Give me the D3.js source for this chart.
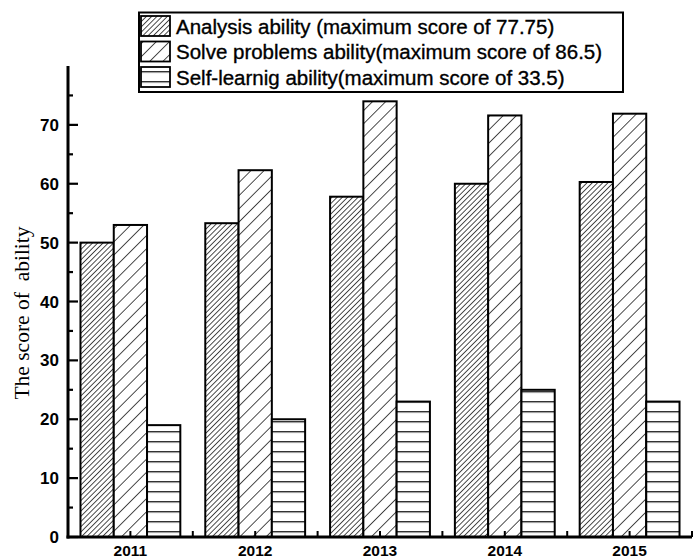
<!DOCTYPE html>
<html><head><meta charset="utf-8">
<script src="https://cdn.jsdelivr.net/npm/d3@7"></script>
<style>body{margin:0;background:#fff}svg{display:block}</style>
</head><body>
<svg id="c" width="694" height="557"></svg>
<script>
const years = ["2011","2012","2013","2014","2015"];
const seriesNames = [
  "Analysis ability (maximum score of 77.75)",
  "Solve problems ability(maximum score of 86.5)",
  "Self-learnig ability(maximum score of 33.5)"
];
const analysis = [50.0, 53.3, 57.8, 60.0, 60.3];
const solve = [53.0, 62.3, 74.0, 71.6, 71.9];
const selfLearn = [19.0, 20.0, 23.0, 25.0, 23.0];
const yTicks = [0,10,20,30,40,50,60,70];
const yMinorTicks = [5,15,25,35,45,55,65,75];
const series = [analysis, solve, selfLearn];

(function(){
const svg = d3.select("#c");
const pLeft = 68, pRight = 692, pTop = 66, pBottom = 537;
const x = d3.scaleBand().domain(years).range([pLeft, pRight]).paddingInner(0).paddingOuter(0);
const groupW = x.bandwidth() * 0.8;
const xs = d3.scaleBand().domain([0,1,2]).range([0, groupW]);
const y = d3.scaleLinear().domain([0, 80]).range([pBottom, pTop]);

const defs = svg.append("defs");
function hatch(id, spacing, sw) {
  const p = defs.append("pattern").attr("id", id).attr("patternUnits","userSpaceOnUse")
    .attr("width", spacing).attr("height", spacing).attr("patternTransform","rotate(45)");
  p.append("rect").attr("width", spacing).attr("height", spacing).attr("fill","#fff");
  p.append("line").attr("x1",0).attr("y1",-1).attr("x2",0).attr("y2",spacing+1)
    .attr("stroke","#000").attr("stroke-width", sw);
}
hatch("p0", 3.7, 1.4);
hatch("p1", 9.3, 1.4);
const ph = defs.append("pattern").attr("id","p2").attr("patternUnits","userSpaceOnUse")
  .attr("width", 10).attr("height", 10).attr("y", 1.2);
ph.append("rect").attr("width",10).attr("height",10).attr("fill","#fff");
ph.append("line").attr("x1",0).attr("x2",10).attr("y1",0.5).attr("y2",0.5).attr("stroke","#000").attr("stroke-width",1.4);
const fills = ["url(#p0)","url(#p1)","url(#p2)"];

series.forEach((vals, si) => {
  svg.append("g").selectAll("rect").data(vals).join("rect")
    .attr("x", (d,i) => x(years[i]) + (x.bandwidth()-groupW)/2 + xs(si))
    .attr("y", d => y(d))
    .attr("width", xs.bandwidth())
    .attr("height", d => y(0) - y(d))
    .attr("fill", fills[si]).attr("stroke","#000").attr("stroke-width",2);
});

const yAxis = svg.append("g").attr("transform", `translate(${pLeft},0)`);
yAxis.append("line").attr("x1",0).attr("x2",0).attr("y1",pTop).attr("y2",pBottom+1.5).attr("stroke","#000").attr("stroke-width",3);
yAxis.selectAll(".maj").data(yTicks).join("line").attr("class","maj").attr("x1",0).attr("x2",10)
  .attr("y1",d=>y(d)).attr("y2",d=>y(d)).attr("stroke","#000").attr("stroke-width",2.2);
yAxis.selectAll(".min").data(yMinorTicks).join("line").attr("class","min").attr("x1",0).attr("x2",5)
  .attr("y1",d=>y(d)).attr("y2",d=>y(d)).attr("stroke","#000").attr("stroke-width",2.2);
yAxis.selectAll("text").data(yTicks).join("text").attr("x",-9).attr("y",d=>y(d)+6)
  .attr("text-anchor","end").attr("font-family","Liberation Sans, Arial, sans-serif")
  .attr("font-weight","bold").attr("font-size",17).text(d=>d);

const xAxis = svg.append("g");
xAxis.append("line").attr("x1",pLeft-1.5).attr("x2",pRight).attr("y1",pBottom).attr("y2",pBottom).attr("stroke","#000").attr("stroke-width",3);
const halfTicks = [];
years.forEach(yr => { halfTicks.push(x(yr) + x.bandwidth()/2); halfTicks.push(x(yr) + x.bandwidth()); });
xAxis.selectAll(".t").data(halfTicks).join("line").attr("class","t").attr("x1",d=>d).attr("x2",d=>d)
  .attr("y1",pBottom).attr("y2",pBottom-6).attr("stroke","#000").attr("stroke-width",2);
xAxis.selectAll("text").data(years).join("text")
  .attr("x", d => x(d) + x.bandwidth()/2).attr("y", 555.5)
  .attr("text-anchor","middle").attr("font-family","Liberation Sans, Arial, sans-serif")
  .attr("font-weight","bold").attr("font-size",15.5).text(d=>d);

svg.append("text").attr("transform","translate(29,313) rotate(-90)")
  .attr("text-anchor","middle").attr("font-family","Liberation Serif, Times New Roman, serif")
  .attr("font-size",21.5).style("white-space","pre").text("The score of  ability");

const lg = svg.append("g");
lg.append("rect").attr("x",139).attr("y",12.5).attr("width",484).attr("height",79.5)
  .attr("fill","#fff").attr("stroke","#000").attr("stroke-width",2);
seriesNames.forEach((name, i) => {
  const yy = 16 + i*25.5;
  lg.append("rect").attr("x",141).attr("y",yy).attr("width",29).attr("height",20)
    .attr("fill", fills[i]).attr("stroke","#000").attr("stroke-width",1.8);
  lg.append("text").attr("x",176).attr("y",yy+17.5).attr("font-family","Liberation Sans, Arial, sans-serif")
    .attr("font-size",20.5).attr("stroke","#000").attr("stroke-width",0.35).text(name);
});
})();
</script>
</body></html>
